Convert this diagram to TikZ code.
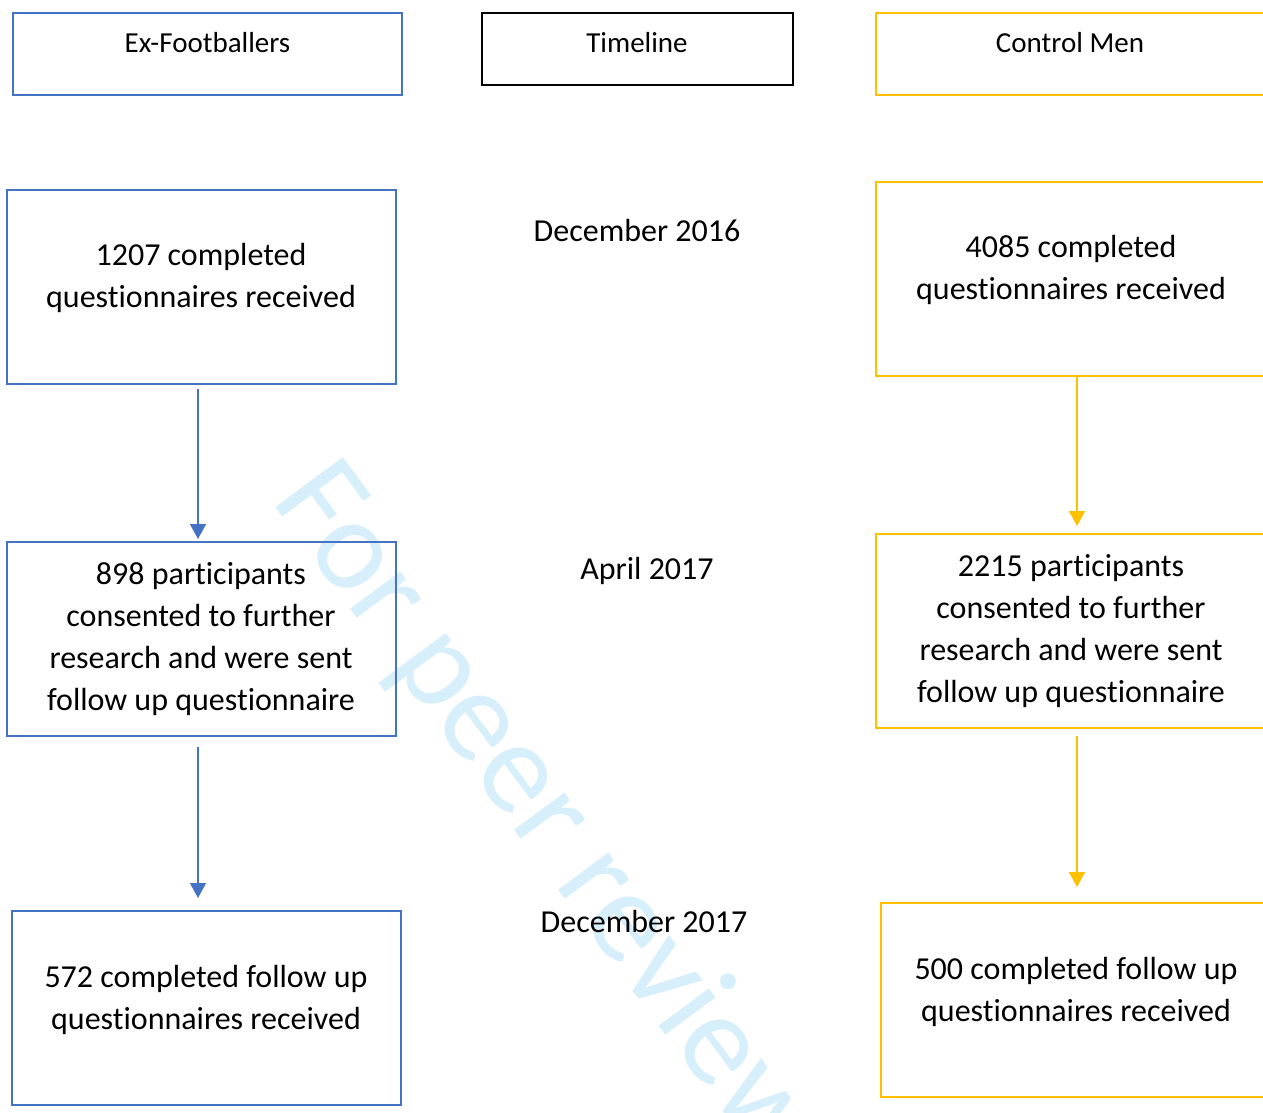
\documentclass[tikz,border=0pt]{standalone}
\usepackage{fontspec}
\setmainfont[Ligatures={NoCommon}]{Carlito}
\usetikzlibrary{arrows.meta}
\definecolor{cblue}{RGB}{68,114,196}
\definecolor{cyel}{RGB}{255,192,0}
\definecolor{wmcol}{RGB}{214,239,250}
\begin{document}
\begin{tikzpicture}[x=1pt,y=-1pt,
  box/.style={draw, line width=2.4pt, minimum width=389pt, minimum height=194pt, inner sep=0pt, outer sep=0pt, anchor=north west},
  bluebox/.style={box, draw=cblue},
  yelbox/.style={box, draw=cyel, minimum width=390pt},
  head/.style={font=\fontsize{29}{36}\selectfont, inner sep=0pt},
  body/.style={font=\fontsize{32}{42}\selectfont, align=center, inner sep=0pt},
  barrow/.style={draw=cblue, line width=1.3pt, -{Triangle[width=16pt,length=15pt]}},
  yarrow/.style={draw=cyel, line width=1.3pt, -{Triangle[width=16pt,length=15pt]}},
  wmark/.style={font=\fontsize{131}{140}\selectfont, text=wmcol, inner sep=0pt}
]
\useasboundingbox (0,0) rectangle (1263,1113);
\clip (0,0) rectangle (1263,1113);
\fill[white] (0,0) rectangle (1263,1113);

% watermark
\node[wmark, rotate=-53.5, anchor=base west] (wm) at (270,500) {For peer review};

% header boxes
\node[bluebox, minimum height=82pt] (exf) at (13,13) {};
\node[box, draw=black, line width=2pt, minimum width=311pt, minimum height=72pt] (tl) at (482,13) {};
\node[yelbox, minimum height=82pt] (cm) at (876,13) {};
\node[head] (exft) at (207.5,43) {Ex-Footballers};
\node[head] (tlt) at (637,43) {Timeline};
\node[head] (cmt) at (1070,43) {Control Men};

% left column
\node[bluebox] (a1) at (7,190) {};
\node[bluebox] (a2) at (7,542) {};
\node[bluebox] (a3) at (12,911) {};
\node[body] (a1t) at (201,278) {1207 completed\\questionnaires received};
\node[body] (a2t) at (201,639) {898 participants\\consented to further\\research and were sent\\follow up questionnaire};
\node[body] (a3t) at (206,1000) {572 completed follow up\\questionnaires received};

% right column
\node[yelbox] (c1) at (876,182) {};
\node[yelbox] (c2) at (876,534) {};
\node[yelbox] (c3) at (881,903) {};
\node[body] (c1t) at (1071,270) {4085 completed\\questionnaires received};
\node[body] (c2t) at (1071,631) {2215 participants\\consented to further\\research and were sent\\follow up questionnaire};
\node[body] (c3t) at (1076,992) {500 completed follow up\\questionnaires received};

% timeline
\node[body] (d16) at (637,231) {December 2016};
\node[body] (a17) at (647,571) {April 2017};
\node[body] (d17) at (644,921) {December 2017};

% arrows
\draw[barrow, shorten <=5pt, shorten >=3pt] ([xshift=-3.5pt]a1.south) -- ([xshift=-3.5pt]a2.north);
\draw[barrow, shorten <=11pt, shorten >=13pt] ([xshift=-3.5pt]a2.south) -- ([xshift=-8.5pt]a3.north);
\draw[yarrow, shorten <=1pt, shorten >=8pt] ([xshift=6pt]c1.south) -- ([xshift=6pt]c2.north);
\draw[yarrow, shorten <=8pt, shorten >=16pt] ([xshift=6pt]c2.south) -- ([xshift=1pt]c3.north);
\end{tikzpicture}
\end{document}
